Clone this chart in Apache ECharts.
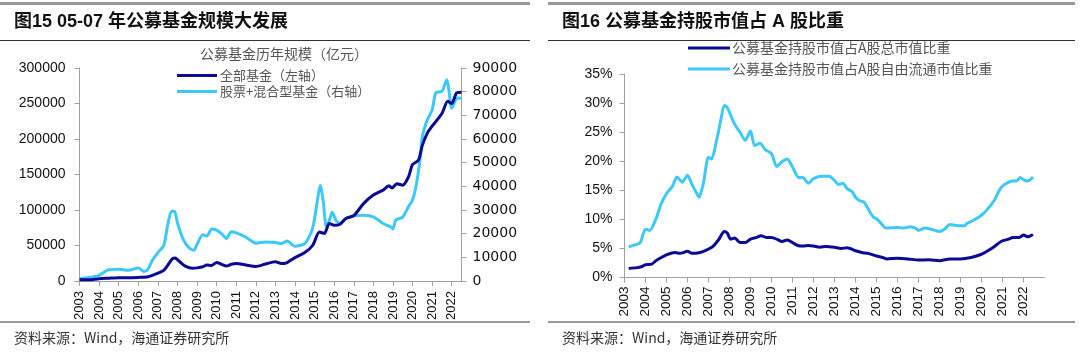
<!DOCTYPE html>
<html><head><meta charset="utf-8">
<script src="https://cdn.jsdelivr.net/npm/echarts@6/dist/echarts.min.js"></script>
<style>html,body{margin:0;padding:0;background:#fff}#c{width:1080px;height:360px}</style>
</head><body><div id="c"></div>
<script>
const yearLabels = ['2003','2004','2005','2006','2007','2008','2009','2010','2011','2012','2013','2014','2015','2016','2017','2018','2019','2020','2021','2022'];
const leftTicks = ['0','50000','100000','150000','200000','250000','300000'];
const rightTicks = ['0','10000','20000','30000','40000','50000','60000','70000','80000','90000'];

// Chart 15: all funds (left axis, 亿元)
const allFundX = [2003.0,2003.5,2004.0,2004.5,2005.0,2005.5,2006.0,2006.5,2007.0,2007.3,2007.5,2007.75,2007.9,2008.0,2008.2,2008.4,2008.75,2009.0,2009.3,2009.5,2009.75,2010.0,2010.25,2010.5,2010.75,2011.0,2011.5,2012.0,2012.5,2013.0,2013.3,2013.6,2014.0,2014.5,2014.9,2015.25,2015.5,2015.75,2016.0,2016.3,2016.6,2017.0,2017.5,2018.0,2018.5,2018.8,2018.95,2019.2,2019.5,2019.8,2020.0,2020.3,2020.5,2020.75,2021.0,2021.5,2021.8,2022.0,2022.25,2022.5];
const allFundY = [1600,1800,3300,4000,4700,4500,5000,6000,11000,15000,22000,31500,32500,30000,25000,21000,18000,18500,20000,22500,22000,26000,23500,21000,23500,24500,22500,20500,24000,27000,24500,26000,33000,40000,50000,69000,67000,81000,78500,80000,88000,92000,109000,121000,128000,134000,131000,137000,135000,147000,164000,170000,191000,208000,218000,236000,253000,250000,265000,266000];
// Chart 15: stock + mixed funds (right axis)
const stockMixX = [2003.0,2003.5,2004.0,2004.5,2005.0,2005.5,2006.0,2006.3,2006.5,2006.7,2007.0,2007.3,2007.5,2007.7,2007.85,2008.0,2008.3,2008.6,2008.85,2009.0,2009.3,2009.5,2009.75,2010.0,2010.25,2010.5,2010.75,2011.0,2011.5,2012.0,2012.5,2013.0,2013.3,2013.6,2014.0,2014.5,2014.8,2014.95,2015.2,2015.3,2015.45,2015.6,2015.75,2015.9,2016.1,2016.3,2016.6,2017.0,2017.5,2018.0,2018.5,2018.9,2019.0,2019.15,2019.5,2019.8,2020.0,2020.2,2020.4,2020.5,2020.75,2021.0,2021.2,2021.5,2021.75,2021.85,2022.0,2022.2,2022.35,2022.5];
const stockMixY = [1000,1500,2400,4800,5000,4500,5500,4000,5000,8500,12000,15000,23500,29500,29500,24500,17500,14000,13000,15500,19500,19000,22000,21500,20000,18000,20800,20300,18500,16000,16500,16300,15800,16900,14700,15800,20000,24000,37000,40500,33000,23000,25500,29000,25500,24300,26400,27600,27800,27100,24300,22800,22000,25800,27000,31500,34200,41000,52500,61000,68000,72300,79700,80100,85000,81000,73000,76500,77300,77100];

// Chart 16: share of A-share market value (%)
const totalShareX = [2003.2,2003.6,2003.8,2004.0,2004.3,2004.5,2004.75,2005.0,2005.4,2005.65,2006.0,2006.2,2006.6,2006.9,2007.2,2007.5,2007.75,2007.9,2008.05,2008.25,2008.5,2008.75,2009.0,2009.3,2009.5,2009.75,2010.0,2010.3,2010.5,2010.75,2011.0,2011.25,2011.5,2011.75,2012.0,2012.3,2012.6,2013.0,2013.3,2013.6,2014.0,2014.3,2014.6,2015.0,2015.3,2015.5,2016.0,2016.5,2017.0,2017.5,2018.0,2018.5,2019.0,2019.5,2020.0,2020.3,2020.6,2020.85,2021.0,2021.3,2021.5,2021.8,2022.0,2022.2,2022.45];
const totalShareY = [1.55,1.7,1.85,2.2,2.3,2.9,3.45,3.9,4.3,4.15,4.5,4.15,4.3,4.7,5.3,6.6,7.9,7.6,6.6,6.8,6.0,6.0,6.6,6.9,7.2,6.9,6.9,6.5,6.2,6.45,6.0,5.5,5.4,5.5,5.4,5.2,5.35,5.2,5.0,5.1,4.6,4.3,4.15,3.7,3.45,3.2,3.3,3.2,3.0,3.05,2.9,3.2,3.2,3.45,4.0,4.6,5.3,6.0,6.3,6.6,6.9,6.9,7.3,7.0,7.4];
const freeShareX = [2003.2,2003.5,2003.75,2004.0,2004.2,2004.5,2004.75,2005.0,2005.3,2005.5,2005.75,2006.0,2006.2,2006.45,2006.55,2006.75,2007.0,2007.15,2007.35,2007.6,2007.75,2007.9,2008.15,2008.3,2008.5,2008.75,2009.0,2009.2,2009.45,2009.7,2010.0,2010.25,2010.5,2010.75,2011.0,2011.3,2011.5,2011.75,2012.0,2012.4,2012.75,2013.0,2013.2,2013.4,2013.6,2013.85,2014.0,2014.2,2014.4,2014.65,2014.85,2015.0,2015.25,2015.45,2016.0,2016.3,2016.6,2016.85,2017.0,2017.3,2017.6,2018.0,2018.2,2018.5,2019.0,2019.2,2019.3,2019.6,2020.0,2020.3,2020.6,2020.85,2021.0,2021.3,2021.5,2021.65,2021.85,2022.0,2022.2,2022.45];
const freeShareY = [5.3,5.6,6.0,8.3,8.1,10.1,12.7,14.4,15.8,17.3,16.4,17.6,16.1,14.4,13.8,16.1,20.7,20.4,23.0,27.3,29.6,29.2,27.1,26.0,25.0,23.6,25.2,22.7,23.1,22.0,21.3,19.1,19.9,20.4,19.0,17.2,17.2,16.2,17.0,17.4,17.4,16.7,16.0,16.2,15.3,14.7,13.8,13.2,13.0,11.5,10.4,10.1,9.2,8.5,8.6,8.5,8.75,8.5,8.1,8.5,8.3,7.9,8.2,9.1,8.9,8.9,9.3,9.8,10.7,11.8,13.2,15.0,15.7,16.4,16.6,16.6,17.2,16.8,16.6,17.3];

const zip = (xs, ys) => xs.map((x, i) => [x, ys[i]]);
const DARK = '#0a0a96', LIGHT = '#3cc8fa';
const AXC = '#a0a0a0';
const NUMF = '"Liberation Sans", Arial, sans-serif';
const CJK = '"Noto Sans CJK SC", sans-serif';

const chart = echarts.init(document.getElementById('c'), null, {renderer: 'canvas'});

function xAxis(gridIndex, max, fs, margin) {
  return {
    type: 'value', gridIndex, min: 2003, max, interval: 1,
    axisLine: {lineStyle: {color: AXC, width: 1}},
    axisTick: {show: true, length: 5, lineStyle: {color: AXC}},
    splitLine: {show: false},
    axisLabel: {rotate: 90, margin, fontSize: fs, color: '#111', fontFamily: NUMF,
      showMaxLabel: false,
      formatter: v => { const i = Math.round(v - 2003); return (Math.abs(v - 2003 - i) < 1e-6 && yearLabels[i]) ? yearLabels[i] : ''; }}
  };
}

const option = {
  animation: false,
  backgroundColor: '#fff',
  grid: [
    {left: 79.5, top: 68, width: 382, height: 213, containLabel: false},
    {left: 624.5, top: 74, width: 420, height: 203.5, containLabel: false}
  ],
  xAxis: [xAxis(0, 2022.5, 13, 10), xAxis(1, 2023, 13.5, 9)],
  yAxis: [
    {type: 'value', gridIndex: 0, min: 0, max: 300000, interval: 50000, position: 'left',
      axisLine: {show: true, lineStyle: {color: AXC}}, axisTick: {show: true, length: 5, lineStyle: {color: AXC}},
      splitLine: {show: false},
      axisLabel: {fontSize: 14, color: '#111', fontFamily: NUMF, margin: 14,
        formatter: v => leftTicks[Math.round(v / 50000)] ?? ''}},
    {type: 'value', gridIndex: 0, min: 0, max: 90000, interval: 10000, position: 'right',
      axisLine: {show: true, lineStyle: {color: AXC}}, axisTick: {show: true, length: 5, lineStyle: {color: AXC}},
      splitLine: {show: false},
      axisLabel: {fontSize: 14, color: '#111', fontFamily: '"DejaVu Sans", sans-serif', margin: 11,
        formatter: v => rightTicks[Math.round(v / 10000)] ?? ''}},
    {type: 'value', gridIndex: 1, min: 0, max: 35, interval: 5, position: 'left',
      axisLine: {show: true, lineStyle: {color: AXC}}, axisTick: {show: true, length: 5, lineStyle: {color: AXC}},
      splitLine: {show: false},
      axisLabel: {fontSize: 14, color: '#111', fontFamily: NUMF, margin: 12, formatter: '{value}%'}}
  ],
  legend: [
    {data: ['全部基金（左轴）', '股票+混合型基金（右轴）'], orient: 'vertical', left: 177, top: 69,
      icon: 'rect', itemWidth: 40, itemHeight: 3, itemGap: 3, padding: 0,
      textStyle: {fontSize: 13, color: '#555', fontFamily: CJK, padding: [0, 0, 0, -2]}},
    {data: ['公募基金持股市值占A股总市值比重', '公募基金持股市值占A股自由流通市值比重'], orient: 'vertical', left: 688, top: 41,
      icon: 'rect', itemWidth: 42, itemHeight: 3, itemGap: 7, padding: 0,
      textStyle: {fontSize: 14, color: '#555', fontFamily: CJK, padding: [0, 0, 0, -3]}}
  ],
  series: [
    {name: '股票+混合型基金（右轴）', type: 'line', xAxisIndex: 0, yAxisIndex: 1, data: zip(stockMixX, stockMixY),
      showSymbol: false, smooth: 0.25, lineStyle: {color: LIGHT, width: 3}, itemStyle: {color: LIGHT}},
    {name: '全部基金（左轴）', type: 'line', xAxisIndex: 0, yAxisIndex: 0, data: zip(allFundX, allFundY),
      showSymbol: false, smooth: 0.25, lineStyle: {color: DARK, width: 3}, itemStyle: {color: DARK}, z: 3},
    {name: '公募基金持股市值占A股自由流通市值比重', type: 'line', xAxisIndex: 1, yAxisIndex: 2, data: zip(freeShareX, freeShareY),
      showSymbol: false, smooth: 0.25, lineStyle: {color: LIGHT, width: 3}, itemStyle: {color: LIGHT}},
    {name: '公募基金持股市值占A股总市值比重', type: 'line', xAxisIndex: 1, yAxisIndex: 2, data: zip(totalShareX, totalShareY),
      showSymbol: false, smooth: 0.25, lineStyle: {color: DARK, width: 3}, itemStyle: {color: DARK}}
  ],
  graphic: [
    {type: 'rect', shape: {x: 0, y: 2, width: 530, height: 3}, style: {fill: '#9a9a9a'}, silent: true},
    {type: 'rect', shape: {x: 548, y: 2, width: 527, height: 3}, style: {fill: '#9a9a9a'}, silent: true},
    {type: 'rect', shape: {x: 0, y: 40, width: 530, height: 1}, style: {fill: '#333'}, silent: true},
    {type: 'rect', shape: {x: 548, y: 40, width: 527, height: 1}, style: {fill: '#333'}, silent: true},
    {type: 'rect', shape: {x: 0, y: 321, width: 530, height: 2}, style: {fill: '#9a9a9a'}, silent: true},
    {type: 'rect', shape: {x: 548, y: 321, width: 527, height: 2}, style: {fill: '#9a9a9a'}, silent: true},
    {type: 'text', x: 14, y: 22, style: {text: '图15 05-07 年公募基金规模大发展', font: 'bold 18px "Liberation Sans", "Noto Sans CJK SC", sans-serif', fill: '#111', verticalAlign: 'middle'}},
    {type: 'text', x: 562, y: 22, style: {text: '图16 公募基金持股市值占 A 股比重', font: 'bold 18px "Liberation Sans", "Noto Sans CJK SC", sans-serif', fill: '#111', verticalAlign: 'middle'}},
    {type: 'text', x: 284, y: 54, style: {text: '公募基金历年规模（亿元）', font: '14px "Noto Sans CJK SC", sans-serif', fill: '#555', align: 'center', verticalAlign: 'middle'}},
    {type: 'text', x: 14, y: 338, style: {text: '资料来源：Wind，海通证券研究所', font: '14px "Noto Sans CJK SC", sans-serif', fill: '#333', verticalAlign: 'middle'}},
    {type: 'text', x: 562, y: 338, style: {text: '资料来源：Wind，海通证券研究所', font: '14px "Noto Sans CJK SC", sans-serif', fill: '#333', verticalAlign: 'middle'}}
  ]
};
chart.setOption(option);
</script>
</body></html>
